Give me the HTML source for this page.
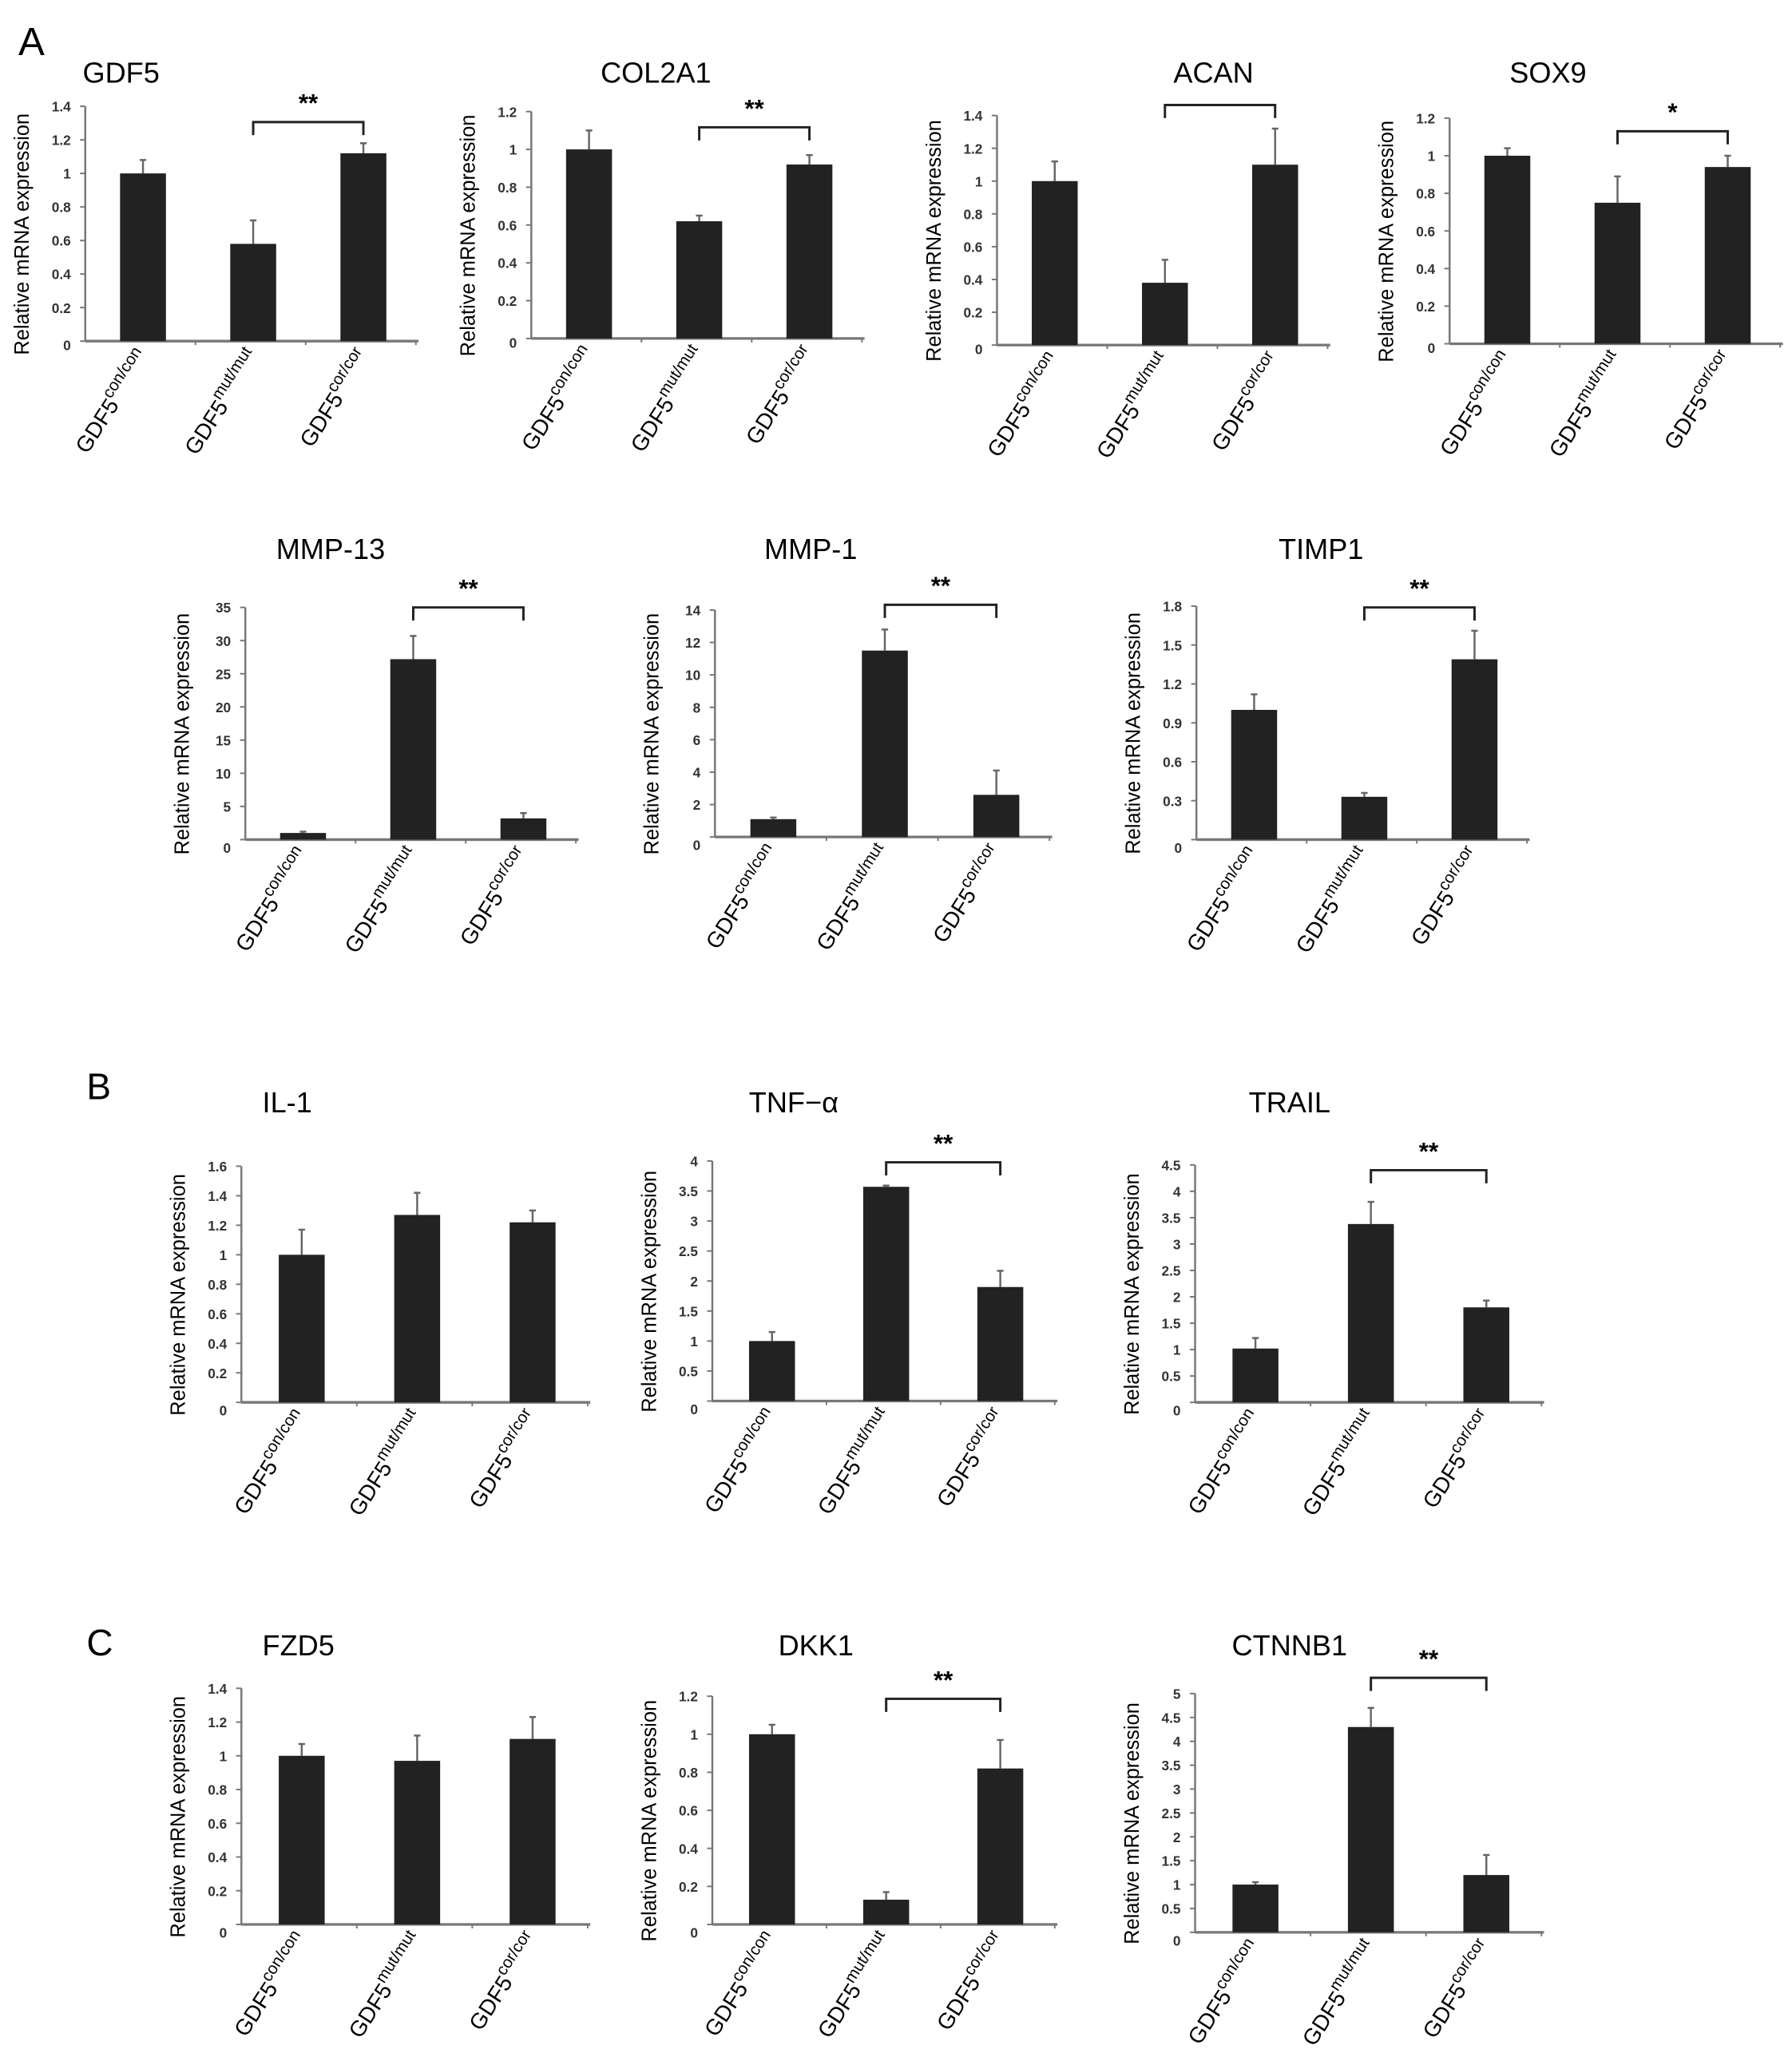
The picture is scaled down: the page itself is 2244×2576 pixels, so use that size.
<!DOCTYPE html>
<html><head><meta charset="utf-8"><style>
html,body{margin:0;padding:0;background:#fff}
svg{display:block}
text{font-family:"Liberation Sans",sans-serif}
</style></head><body>
<svg id="fig" width="2244" height="2576" viewBox="0 0 1366 1568" xmlns="http://www.w3.org/2000/svg">
<text x="14" y="42" font-size="30">A</text>
<text x="66" y="838" font-size="28">B</text>
<text x="66" y="1262" font-size="28">C</text>
</svg>
<script>
const NS="http://www.w3.org/2000/svg";
const svg=document.getElementById('fig');
const categories=["con/con","mut/mut","cor/cor"];
const titles=["GDF5","COL2A1","ACAN","SOX9","MMP-13","MMP-1","TIMP1","IL-1","TNF−α","TRAIL","FZD5","DKK1","CTNNB1"];
const means=[[1.0,0.58,1.12],[1.0,0.62,0.92],[1.0,0.38,1.1],[1.0,0.75,0.94],[1.0,27.2,3.2],[1.1,11.5,2.6],[1.0,0.33,1.39],[1.0,1.27,1.22],[1.0,3.57,1.9],[1.02,3.38,1.8],[1.0,0.97,1.1],[1.0,0.13,0.82],[1.0,4.3,1.2]];
const errors=[[0.08,0.14,0.06],[0.1,0.03,0.05],[0.12,0.14,0.22],[0.04,0.14,0.06],[0.2,3.5,0.8],[0.1,1.3,1.5],[0.12,0.03,0.22],[0.17,0.15,0.08],[0.15,0.02,0.27],[0.2,0.42,0.13],[0.07,0.15,0.13],[0.05,0.04,0.15],[0.05,0.4,0.42]];
const yMax=[1.4,1.2,1.4,1.2,35,14,1.8,1.6,4,4.5,1.4,1.2,5];
const yStep=[0.2,0.2,0.2,0.2,5,2,0.3,0.2,0.5,0.5,0.2,0.2,0.5];
const sigLabels=["**","**","","*","**","**","**",null,"**","**",null,"**","**"];
// layout (display units)
const L=[
 {ax:65,top:81,zero:260,cw:84,tx:63,ty:63,anchor:"start",by:93,z0:3},
 {ax:405,top:85,zero:258,cw:84,tx:500,ty:63,anchor:"middle",by:97,z0:3},
 {ax:760,top:88,zero:263,cw:84,tx:925,ty:63,anchor:"middle",by:80,z0:3},
 {ax:1105,top:90,zero:262,cw:84,tx:1180,ty:63,anchor:"middle",by:100,z0:3},
 {ax:187,top:463,zero:640,cw:84,tx:252,ty:426,anchor:"middle",by:463,z0:6},
 {ax:545,top:465,zero:638,cw:85,tx:618,ty:426,anchor:"middle",by:461,z0:6},
 {ax:912,top:462,zero:640,cw:84,tx:1007,ty:426,anchor:"middle",by:463,z0:6},
 {ax:184,top:889,zero:1069,cw:88,tx:200,ty:848,anchor:"start",by:0,z0:6},
 {ax:543,top:885,zero:1068,cw:87,tx:605,ty:848,anchor:"middle",by:886,z0:6},
 {ax:911,top:888,zero:1069,cw:88,tx:983,ty:848,anchor:"middle",by:892,z0:6},
 {ax:184,top:1287,zero:1467,cw:88,tx:200,ty:1262,anchor:"start",by:0,z0:6},
 {ax:543,top:1293,zero:1467,cw:87,tx:622,ty:1262,anchor:"middle",by:1295,z0:6},
 {ax:911,top:1291,zero:1473,cw:88,tx:983,ty:1262,anchor:"middle",by:1279,z0:6}
];
const bracketFrom=[1,1,1,1,1,1,1,0,1,1,0,1,1];
const BW=35;
function mk(tag,attrs,parent){const e=document.createElementNS(NS,tag);for(const k in attrs)e.setAttribute(k,attrs[k]);(parent||svg).appendChild(e);return e;}
titles.forEach((t,i)=>{
  const p=L[i];const CW=p.cw;
  const g=mk('g',{});
  
  
  const yS=v=>p.zero-(v/yMax[i])*(p.zero-p.top);
  const xC=k=>p.ax+CW*(k+0.5)+2;
  const right=p.ax+CW*3+2;
  const tt=mk('text',{x:p.tx,y:p.ty,'font-size':22,'text-anchor':p.anchor},g);tt.textContent=t;
  
  
  const ya=mk('line',{x1:p.ax,y1:p.top,x2:p.ax,y2:p.zero,stroke:'#777','stroke-width':1.5},g);
  
  
  const n=Math.round(yMax[i]/yStep[i]);
  for(let k=0;k<=n;k++){
    const v=k*yStep[i];const y=yS(v);
    mk('line',{x1:p.ax-4,y1:y,x2:p.ax,y2:y,stroke:'#777','stroke-width':1.2},g);
    const lab=mk('text',{x:p.ax-11,y:y+4+(k===0?p.z0:0),'font-size':10.5,'font-weight':'bold','fill':'#333','text-anchor':'end'},g);
    lab.textContent=String(+v.toFixed(2));
    
    
  }
  const yt=mk('text',{x:0,y:0,'font-size':15.5,'text-anchor':'middle',transform:`translate(${p.ax-43},${(p.top+p.zero)/2+8}) rotate(-90)`},g);
  yt.textContent='Relative mRNA expression';
  
  
  const xa=mk('line',{x1:p.ax,y1:p.zero,x2:right,y2:p.zero,stroke:'#777','stroke-width':2},g);
  
  
  for(let k=1;k<=3;k++) mk('line',{x1:p.ax+CW*k,y1:p.zero,x2:p.ax+CW*k,y2:p.zero+3,stroke:'#777','stroke-width':1.2},g);
  categories.forEach((c,k)=>{
    const x=xC(k),y=yS(means[i][k]),ye=yS(means[i][k]+errors[i][k]);
    const eb=mk('line',{x1:x,y1:y,x2:x,y2:ye,stroke:'#666','stroke-width':1.5},g);
    
    
    mk('line',{x1:x-2.5,y1:ye,x2:x+2.5,y2:ye,stroke:'#666','stroke-width':1.5},g);
    const b=mk('rect',{x:x-BW/2,y:y,width:BW,height:p.zero-y,fill:'#222'},g);
    
    
    const xl=mk('text',{x:0,y:0,'font-size':17,'text-anchor':'end',transform:`translate(${x+6},${p.zero+12}) rotate(-57)`},g);
    xl.innerHTML='GDF5<tspan font-size="12.5" dy="-8">'+c+'</tspan>';
    
    
  });
  if(sigLabels[i]!==null){
    const a=xC(bracketFrom[i]),b2=xC(bracketFrom[i]+1),by=p.by;
    const br=mk('path',{d:`M${a},${by+10} V${by} H${b2} V${by+10}`,fill:'none',stroke:'#222','stroke-width':1.8},g);
    
    
    if(sigLabels[i]){
      const st=mk('text',{x:(a+b2)/2,y:by-8,'font-size':19,'font-weight':'bold','text-anchor':'middle'},g);
      st.textContent=sigLabels[i];
      
      
    }
  }
});
</script>
</body></html>
